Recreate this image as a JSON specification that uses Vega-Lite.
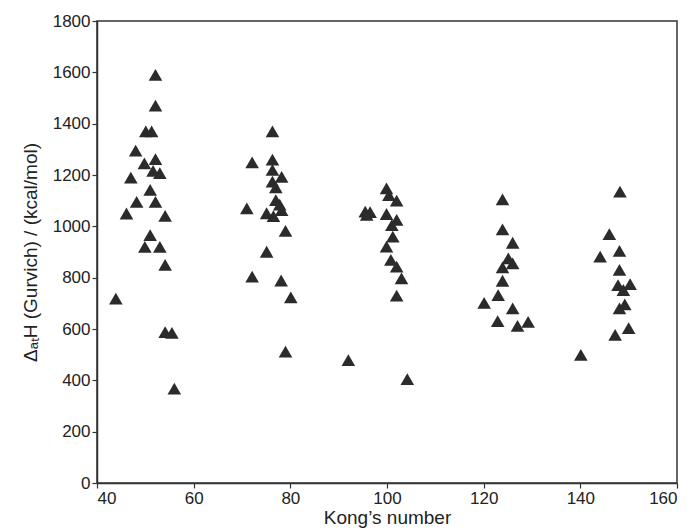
{
  "$schema": "https://vega.github.io/schema/vega-lite/v6.json",
  "width": 580,
  "height": 462,
  "autosize": {"type": "none"},
  "padding": {"left": 97, "top": 21, "right": 19, "bottom": 49},
  "background": "white",
  "config": {
    "view": {"stroke": "#333333", "strokeWidth": 1.5},
    "axis": {
      "grid": false,
      "domainColor": "#333333",
      "domainWidth": 1.5,
      "tickColor": "#333333",
      "tickWidth": 1.2,
      "tickSize": 5,
      "labelFont": "Liberation Sans",
      "labelFontSize": 17,
      "labelColor": "#222222",
      "labelPadding": 2,
      "titleFont": "Liberation Sans",
      "titleFontSize": 19,
      "titleFontWeight": "normal",
      "titleColor": "#222222"
    }
  },
  "data": {
    "values": [
      {"kong": 43.9, "dH": 718}, {"kong": 52.1, "dH": 1590}, {"kong": 52.1, "dH": 1470},
      {"kong": 50.1, "dH": 1370}, {"kong": 51.3, "dH": 1370}, {"kong": 48.0, "dH": 1295},
      {"kong": 49.8, "dH": 1245}, {"kong": 52.1, "dH": 1262}, {"kong": 51.6, "dH": 1216},
      {"kong": 53.0, "dH": 1207}, {"kong": 47.0, "dH": 1190}, {"kong": 51.0, "dH": 1142},
      {"kong": 48.2, "dH": 1095}, {"kong": 52.1, "dH": 1095}, {"kong": 46.1, "dH": 1050},
      {"kong": 54.1, "dH": 1041}, {"kong": 51.0, "dH": 966}, {"kong": 49.9, "dH": 920},
      {"kong": 53.0, "dH": 920}, {"kong": 54.1, "dH": 850}, {"kong": 54.1, "dH": 588},
      {"kong": 55.5, "dH": 585}, {"kong": 56.0, "dH": 368},
      {"kong": 76.3, "dH": 1370}, {"kong": 72.1, "dH": 1249}, {"kong": 76.3, "dH": 1260},
      {"kong": 76.3, "dH": 1220}, {"kong": 78.2, "dH": 1193}, {"kong": 76.3, "dH": 1174},
      {"kong": 77.0, "dH": 1152}, {"kong": 77.0, "dH": 1102}, {"kong": 71.0, "dH": 1070},
      {"kong": 78.2, "dH": 1063}, {"kong": 75.1, "dH": 1051}, {"kong": 76.5, "dH": 1040},
      {"kong": 77.8, "dH": 1085}, {"kong": 79.0, "dH": 982}, {"kong": 75.1, "dH": 901},
      {"kong": 72.1, "dH": 804}, {"kong": 78.1, "dH": 789}, {"kong": 80.1, "dH": 723},
      {"kong": 79.0, "dH": 512},
      {"kong": 99.9, "dH": 1148}, {"kong": 100.4, "dH": 1122}, {"kong": 102.0, "dH": 1100},
      {"kong": 95.5, "dH": 1057}, {"kong": 96.5, "dH": 1055}, {"kong": 95.8, "dH": 1045},
      {"kong": 99.9, "dH": 1048}, {"kong": 102.0, "dH": 1025}, {"kong": 101.0, "dH": 1005},
      {"kong": 101.2, "dH": 960}, {"kong": 99.9, "dH": 921}, {"kong": 100.8, "dH": 869},
      {"kong": 102.0, "dH": 843}, {"kong": 103.0, "dH": 797}, {"kong": 102.0, "dH": 730},
      {"kong": 92.0, "dH": 479}, {"kong": 104.2, "dH": 405},
      {"kong": 123.9, "dH": 1105}, {"kong": 123.9, "dH": 988}, {"kong": 126.0, "dH": 936},
      {"kong": 125.1, "dH": 875}, {"kong": 126.0, "dH": 856}, {"kong": 123.9, "dH": 840},
      {"kong": 123.9, "dH": 788}, {"kong": 123.0, "dH": 732}, {"kong": 120.1, "dH": 702},
      {"kong": 126.0, "dH": 680}, {"kong": 122.9, "dH": 631}, {"kong": 127.0, "dH": 612},
      {"kong": 129.2, "dH": 628},
      {"kong": 148.2, "dH": 1135}, {"kong": 146.0, "dH": 970}, {"kong": 148.1, "dH": 904},
      {"kong": 144.1, "dH": 882}, {"kong": 148.1, "dH": 830}, {"kong": 147.8, "dH": 771},
      {"kong": 150.3, "dH": 775}, {"kong": 148.9, "dH": 752}, {"kong": 149.2, "dH": 696},
      {"kong": 148.1, "dH": 680}, {"kong": 150.0, "dH": 603}, {"kong": 147.2, "dH": 577},
      {"kong": 140.1, "dH": 499}
    ]
  },
  "mark": {"type": "point", "shape": "triangle-up", "filled": true, "size": 185, "color": "#2b2b2b", "opacity": 1},
  "encoding": {
    "x": {
      "field": "kong", "type": "quantitative",
      "scale": {"domain": [40, 160], "nice": false, "zero": false},
      "axis": {"values": [40, 60, 80, 100, 120, 140, 160], "format": "d", "title": "Kong’s number", "titlePadding": 2}
    },
    "y": {
      "field": "dH", "type": "quantitative",
      "scale": {"domain": [0, 1800], "nice": false},
      "axis": {"values": [0, 200, 400, 600, 800, 1000, 1200, 1400, 1600, 1800], "format": "d", "title": "ΔₐₜH (Gurvich) / (kcal/mol)", "titlePadding": 12}
    }
  }
}
